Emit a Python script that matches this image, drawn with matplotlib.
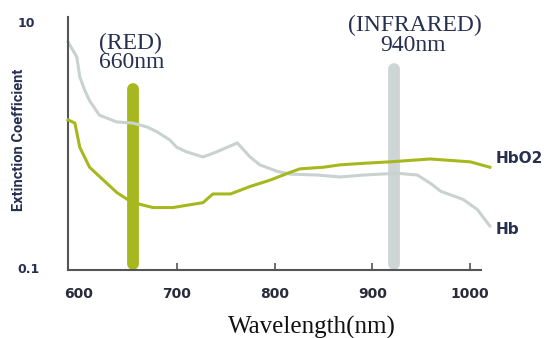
import matplotlib
matplotlib.use("Agg")
import matplotlib.pyplot as plt

# absorption curves (wavelength nm, extinction coefficient)
hb_nm = [589, 598, 601, 606, 611, 621, 639, 655, 670, 680, 693, 700, 710, 727,
         741, 762, 775, 785, 803, 816, 844, 867, 891, 925, 946, 959, 970, 993,
         1007, 1020]
hb_val = [6.9, 5.2, 3.6, 2.8, 2.3, 1.75, 1.54, 1.51, 1.40, 1.28, 1.10, 0.96, 0.88,
          0.80, 0.88, 1.04, 0.80, 0.69, 0.61, 0.58, 0.57, 0.55, 0.57, 0.59, 0.57,
          0.49, 0.42, 0.36, 0.30, 0.22]

hbo2_nm = [589, 596, 601, 611, 625, 639, 650, 662, 676, 696, 717, 727, 737, 755,
           775, 796, 816, 826, 850, 867, 891, 918, 959, 1000, 1020]
hbo2_val = [1.60, 1.51, 0.96, 0.66, 0.52, 0.41, 0.36, 0.33, 0.31, 0.31, 0.33, 0.34,
            0.40, 0.40, 0.46, 0.52, 0.60, 0.64, 0.66, 0.69, 0.71, 0.73, 0.77, 0.73,
            0.66]

# LED markers: (centre nm, bottom value, top value)
red_led = (655, 0.108, 2.85)
ir_led = (922, 0.108, 4.15)

xticks = [600, 700, 800, 900, 1000]

GREEN = "#a7b81e"
GREY = "#cdd6d5"
TXT = "#27304f"

fig = plt.figure(figsize=(5.52, 3.38), dpi=100)
ax = fig.add_axes([0.1232, 0.2012, 0.7482, 0.7485])
ax.set_yscale("log")
ax.set_xlim(589, 1011)
ax.set_ylim(0.0963, 11.0)

ax.plot([red_led[0], red_led[0]], [red_led[1], red_led[2]], color=GREEN, lw=8.5,
        solid_capstyle="round", zorder=1)
ax.plot([ir_led[0], ir_led[0]], [ir_led[1], ir_led[2]], color=GREY, lw=8.5,
        solid_capstyle="round", zorder=1)

ax.plot(hb_nm, hb_val, color="#c9d2d0", lw=2.2, clip_on=False, zorder=2)
ax.plot(hbo2_nm, hbo2_val, color=GREEN, lw=2.2, clip_on=False, zorder=3)

ax.text(1026, 0.78, "HbO2", fontsize=11, fontweight="bold", color=TXT,
        va="center", ha="left")
ax.text(1026, 0.204, "Hb", fontsize=11, fontweight="bold", color=TXT,
        va="center", ha="left")

serif = ["Liberation Serif", "DejaVu Serif"]
ax.text(653, 6.75, "(RED)", family=serif, fontsize=17, color=TXT, ha="center", va="center")
ax.text(654, 4.73, "660nm", family=serif, fontsize=17, color=TXT, ha="center", va="center")
ax.text(943, 9.47, "(INFRARED)", family=serif, fontsize=17, color=TXT, ha="center",
        va="center", clip_on=False)
ax.text(941, 6.5, "940nm", family=serif, fontsize=17, color=TXT, ha="center", va="center")

for s in ["top", "right"]:
    ax.spines[s].set_visible(False)
for s in ["left", "bottom"]:
    ax.spines[s].set_color("#555555")
    ax.spines[s].set_linewidth(1.5)

ax.set_xticks(xticks)
ax.set_xticklabels([str(v) for v in xticks], fontsize=10, fontweight="bold", color="#2a2a3a")
ax.tick_params(axis="x", direction="in", length=5, width=1.2, color="#555555", pad=12)
ax.xaxis.get_major_ticks()[0].tick1line.set_visible(False)

ax.set_yticks([0.1, 10])
ax.set_yticklabels(["0.1", "10"], fontsize=9, fontweight="bold", color=TXT)
ax.minorticks_off()
ax.tick_params(axis="y", length=0, pad=36.5)
for lab in ax.get_yticklabels():
    lab.set_horizontalalignment("left")

fig.text(0.035, 0.585, "Extinction Coefficient", rotation=90, fontsize=10.5,
         family="Roboto", fontweight="bold", color=TXT, ha="center", va="center")
fig.text(0.565, 0.030, "Wavelength(nm)", family=serif, fontsize=18, color="#111111",
         ha="center", va="center")

fig.savefig("out.png", dpi=100)
